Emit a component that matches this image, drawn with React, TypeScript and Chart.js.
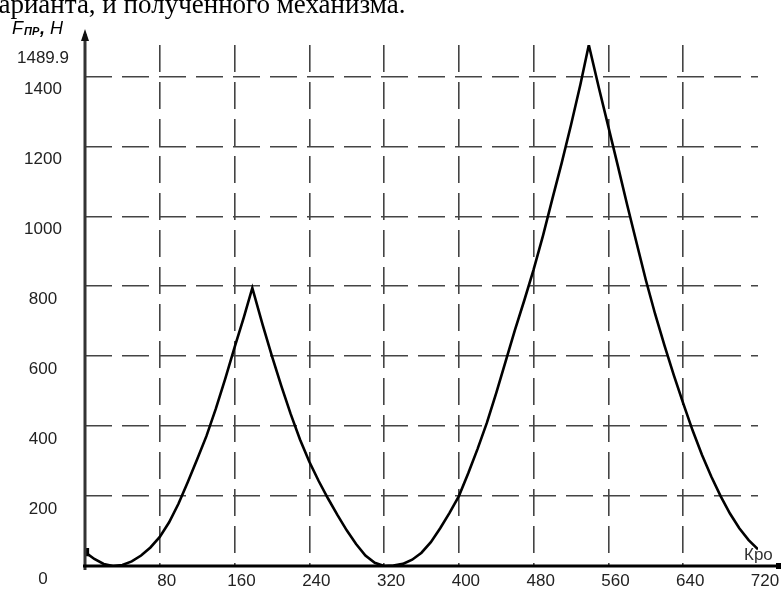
import React, { useEffect, useRef } from "react";
import { Chart, registerables } from "chart.js";

Chart.register(...registerables);

const xValues = [
  0, 10, 20, 30, 40, 50, 60, 70, 80, 90, 100, 110, 120, 130, 140, 150, 160, 170, 179,
  190, 200, 210, 220, 230, 240, 250, 260, 270, 280, 290, 300, 310, 320,
  330, 340, 350, 360, 370, 380, 390, 400, 410, 420, 430, 440, 450, 460, 470, 480, 490,
  500, 510, 520, 530, 539, 550, 560, 570, 580, 590, 600, 610, 620, 630, 640, 650, 660,
  670, 680, 690, 700, 710, 720,
];
const forceValues = [
  40, 20, 6, 0, 3, 13, 30, 53, 83, 125, 178, 240, 305, 372, 450, 535, 625, 712, 795,
  690, 600, 515, 435, 362, 298, 243, 193, 146, 102, 63, 30, 9, 0,
  1, 6, 18, 38, 68, 108, 152, 200, 265, 335, 410, 495, 585, 675, 760, 848, 945,
  1050, 1153, 1262, 1377, 1489.9, 1365, 1255, 1145, 1033, 925, 818, 720, 630, 545, 465, 388, 318,
  256, 200, 150, 108, 74, 48,
];
const yTicks = [0, 200, 400, 600, 800, 1000, 1200, 1400, 1489.9];
const xTickStep = 80;
const titleText = "варианта, и полученного механизма.";
const yAxisMain = "F";
const yAxisSub = "ПР";
const yAxisComma = ",";
const yAxisUnit = "H";
const xAxisText = "Кро";

const overlay = {
  id: "overlay",
  afterDraw(chart: any) {
    const { ctx, chartArea } = chart;
    const left = chartArea.left;
    const bottom = chartArea.bottom;
    ctx.save();
    // title text (cut at top)
    ctx.fillStyle = "#000";
    ctx.font = '27px "Liberation Serif", "Times New Roman", serif';
    ctx.textBaseline = "alphabetic";
    ctx.textAlign = "left";
    ctx.fillText(titleText, -14, 13);
    // y axis
    ctx.strokeStyle = "#333";
    ctx.lineWidth = 3;
    ctx.beginPath();
    ctx.moveTo(left, bottom + 4);
    ctx.lineTo(left, 34);
    ctx.stroke();
    ctx.fillStyle = "#111";
    ctx.beginPath();
    ctx.moveTo(left - 4, 41);
    ctx.lineTo(left, 29);
    ctx.lineTo(left + 4, 41);
    ctx.closePath();
    ctx.fill();
    // x axis
    ctx.strokeStyle = "#000";
    ctx.lineWidth = 3;
    ctx.beginPath();
    ctx.moveTo(left - 2, bottom);
    ctx.lineTo(781, bottom);
    ctx.stroke();
    ctx.fillStyle = "#000";
    ctx.fillRect(776, bottom - 3, 5, 6);
    // y axis title
    ctx.fillStyle = "#000";
    ctx.font = 'italic 18px "Liberation Sans", Arial, sans-serif';
    ctx.fillText(yAxisMain, 12, 34);
    ctx.font = 'italic bold 11px "Liberation Sans", Arial, sans-serif';
    ctx.fillText(yAxisSub, 24, 35);
    ctx.font = 'italic bold 18px "Liberation Sans", Arial, sans-serif';
    ctx.fillText(yAxisComma, 40, 34);
    ctx.font = 'italic 18px "Liberation Sans", Arial, sans-serif';
    ctx.fillText(yAxisUnit, 50, 34);
    // x axis title
    ctx.fillStyle = "#333";
    ctx.font = '17px "Liberation Sans", Arial, sans-serif';
    ctx.fillText(xAxisText, 744, 560);
    ctx.restore();
  },
};

export default function App() {
  const ref = useRef<HTMLCanvasElement>(null);
  useEffect(() => {
    if (!ref.current) return;
    const data = xValues.map((x, i) => ({ x, y: forceValues[i] }));
    const chart = new Chart(ref.current, {
      type: "line",
      data: {
        datasets: [
          {
            data,
            borderColor: "#000",
            borderWidth: 2.6,
            backgroundColor: "#000",
            tension: 0,
            pointRadius: (c: any) => (c.dataIndex === 0 ? 4 : 0),
            pointStyle: "rect",
            fill: false,
          },
        ],
      },
      options: {
        animation: false,
        responsive: false,
        devicePixelRatio: 1,
        layout: { padding: { top: 45, right: 23, left: 0, bottom: 0 } },
        plugins: { legend: { display: false }, tooltip: { enabled: false } },
        scales: {
          x: {
            type: "linear",
            min: 0,
            max: 720,
            afterFit: (s: any) => {
              s.height = 28;
            },
            ticks: {
              stepSize: xTickStep,
              padding: 5,
              labelOffset: 7,
              maxRotation: 0,
              autoSkip: false,
              color: "#222",
              font: { family: '"Liberation Sans", Arial, sans-serif', size: 17 },
              callback: (v: any) => (v === 0 ? "" : String(v)),
            },
            grid: {
              drawTicks: false,
              lineWidth: 1.6,
              color: (c: any) =>
                c.tick && (c.tick.value === 0 || c.tick.value === 720) ? "rgba(0,0,0,0)" : "#444",
            },
            border: { display: false, dash: [27, 10] },
          },
          y: {
            type: "linear",
            min: 0,
            max: 1489.9,
            afterFit: (s: any) => {
              s.width = 85;
            },
            afterBuildTicks: (s: any) => {
              s.ticks = yTicks.map((v) => ({ value: v }));
            },
            ticks: {
              padding: 16,
              labelOffset: 13,
              crossAlign: "center",
              autoSkip: false,
              color: "#222",
              font: { family: '"Liberation Sans", Arial, sans-serif', size: 17 },
              callback: (v: any) => String(v),
            },
            grid: {
              drawTicks: false,
              lineWidth: 1.6,
              color: (c: any) =>
                c.tick && (c.tick.value === 0 || c.tick.value === 1489.9) ? "rgba(0,0,0,0)" : "#444",
            },
            border: { display: false, dash: [27, 10] },
          },
        },
      },
      plugins: [overlay],
    } as any);
    return () => chart.destroy();
  }, []);
  return (
    <div style={{ position: "fixed", left: 0, top: 0, width: 781, height: 594, background: "#fff" }}>
      <canvas ref={ref} width={781} height={594} style={{ display: "block" }} />
    </div>
  );
}
